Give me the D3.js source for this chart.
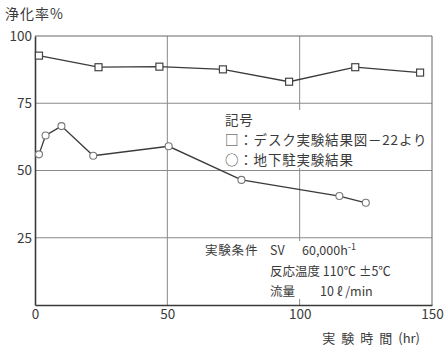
<!DOCTYPE html>
<html>
<head>
<meta charset="utf-8">
<script src="https://cdn.jsdelivr.net/npm/d3@7/dist/d3.min.js"></script>
<style>
  html, body { margin: 0; padding: 0; background: #fff; }
  svg { display: block; }
  text { font-family: "Noto Sans CJK JP", "Noto Sans", sans-serif; fill: #3a3a3a; }
</style>
</head>
<body>
<svg id="chart" width="448" height="350"></svg>
<script>
// 経過時間 (hr) と浄化率 (%)
const deskHours = [1.5, 24, 47, 71, 96, 121, 145.5];
const deskRates = [92.7, 88.4, 88.6, 87.6, 83.0, 88.4, 86.4];
const fieldHours = [1.5, 4, 10, 22, 50.5, 78, 115, 125];
const fieldRates = [56, 63, 66.5, 55.5, 59, 46.5, 40.5, 38];
const xTicks = [0, 50, 100, 150];
const yTicks = [25, 50, 75, 100];
const legendLines = ["記号", "□：デスク実験結果図－22より", "○：地下駐実験結果"];

const svg = d3.select("#chart");
const plotL = 35, plotR = 432, plotT = 36, plotB = 305;
const x = d3.scaleLinear().domain([0, 150]).range([plotL, plotR]);
const y = d3.scaleLinear().domain([0, 100]).range([plotB, plotT]);

const ink = "#3a3a3a", grid = "#8a8a8a";

// grid lines
svg.append("g").selectAll("line").data(yTicks.filter(d => d < 100)).join("line")
  .attr("x1", plotL).attr("x2", plotR)
  .attr("y1", d => y(d)).attr("y2", d => y(d))
  .attr("stroke", grid).attr("stroke-width", 1);
svg.append("g").selectAll("line").data(xTicks.filter(d => d > 0 && d < 150)).join("line")
  .attr("x1", d => x(d)).attr("x2", d => x(d))
  .attr("y1", plotT).attr("y2", plotB)
  .attr("stroke", grid).attr("stroke-width", 1);

// frame
svg.append("line").attr("x1", plotL).attr("x2", plotR).attr("y1", plotT).attr("y2", plotT)
  .attr("stroke", "#666").attr("stroke-width", 1);
svg.append("line").attr("x1", plotR).attr("x2", plotR).attr("y1", plotT).attr("y2", plotB)
  .attr("stroke", "#666").attr("stroke-width", 1);

// white panels behind the legend and the condition notes
svg.append("rect").attr("x", 222).attr("y", 110).attr("width", plotR - 223).attr("height", 58).attr("fill", "#fff");
svg.append("rect").attr("x", 200).attr("y", 241).attr("width", plotR - 201).attr("height", 58).attr("fill", "#fff");

// axes
const yAxis = svg.append("g").attr("transform", `translate(${plotL},0)`)
  .call(d3.axisLeft(y).tickValues(yTicks).tickSize(0).tickPadding(3));
const xAxis = svg.append("g").attr("transform", `translate(0,${plotB})`)
  .call(d3.axisBottom(x).tickValues(xTicks).tickSize(0).tickPadding(4));
[yAxis, xAxis].forEach(g => {
  g.select(".domain").attr("stroke", ink).attr("stroke-width", 1.6);
  g.selectAll("text").attr("font-size", 13.5).attr("fill", "#555")
    .attr("font-family", "'DejaVu Sans Condensed', 'DejaVu Sans', sans-serif");
});

// series lines
const line = (xs, ys) => d3.line().x((d, i) => x(xs[i])).y((d, i) => y(ys[i]))(ys);
svg.append("path").attr("d", line(deskHours, deskRates))
  .attr("fill", "none").attr("stroke", ink).attr("stroke-width", 1.3);
svg.append("path").attr("d", line(fieldHours, fieldRates))
  .attr("fill", "none").attr("stroke", ink).attr("stroke-width", 1.3);

// markers
svg.append("g").selectAll("rect").data(deskRates).join("rect")
  .attr("x", (d, i) => x(deskHours[i]) - 3.5).attr("y", d => y(d) - 3.5)
  .attr("width", 7).attr("height", 7)
  .attr("fill", "#fff").attr("stroke", "#444").attr("stroke-width", 1.2);
svg.append("g").selectAll("circle").data(fieldRates).join("circle")
  .attr("cx", (d, i) => x(fieldHours[i])).attr("cy", d => y(d)).attr("r", 3.5)
  .attr("fill", "#fff").attr("stroke", "#777").attr("stroke-width", 1.1);

// y title
svg.append("text").attr("x", 5).attr("y", 19).attr("font-size", 14).attr("fill", "#555")
  .attr("letter-spacing", 1).text("浄化率%");

// x title
const xt = svg.append("text").attr("x", 420).attr("y", 343).attr("text-anchor", "end")
  .attr("font-size", 13);
xt.append("tspan").attr("letter-spacing", 6).text("実験時間");
xt.append("tspan").text("(hr)");

// legend
svg.append("g").selectAll("text").data(legendLines).join("text")
  .attr("x", 225).attr("y", (d, i) => 125 + i * 20)
  .attr("font-size", 13.5).attr("letter-spacing", 0.8).text(d => d);

// experiment conditions
const cond = svg.append("g").attr("font-size", 12.5);
cond.append("text").attr("x", 205).attr("y", 255).attr("letter-spacing", 0.8).text("実験条件");
const sv = cond.append("text").attr("x", 270).attr("y", 255);
sv.append("tspan").text("SV");
sv.append("tspan").attr("x", 302).text("60,000h");
sv.append("tspan").attr("font-size", 9).attr("dy", -5).text("-1");
cond.append("text").attr("x", 270).attr("y", 276).text("反応温度 110℃ ±5℃");
const fl = cond.append("text").attr("x", 270).attr("y", 296);
fl.append("tspan").text("流量");
fl.append("tspan").attr("x", 320).text("10 ℓ /min");
</script>
</body>
</html>
